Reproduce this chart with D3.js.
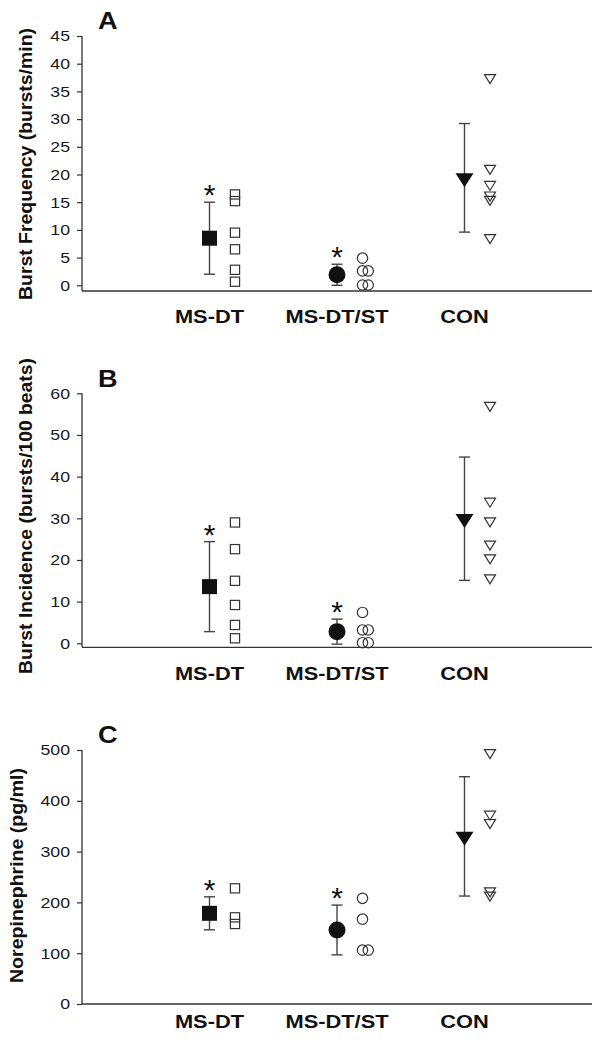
<!DOCTYPE html>
<html><head><meta charset="utf-8">
<script src="https://cdn.jsdelivr.net/npm/d3@7"></script>
<style>body{margin:0;background:#fff}svg{display:block}</style>
</head><body>
<script>
// ---- data ----
const categories = ["MS-DT", "MS-DT/ST", "CON"];

// Panel A: Burst Frequency (bursts/min)
const freqTicks = [0, 5, 10, 15, 20, 25, 30, 35, 40, 45];
const freqMean = [8.5, 1.9, 19.4];
const freqSD = [6.5, 1.9, 9.8];
const freqMSDT = [16.4, 15.2, 9.5, 6.5, 2.8, 0.65];
const freqMSDTST = [4.9, 2.6, 2.6, 0.05, 0.05];
const freqMSDTSTJitter = [0, 0, 1, 0, 1];
const freqCON = [37.5, 21.1, 18.2, 16.3, 15.5, 8.6];

// Panel B: Burst Incidence (bursts/100 beats)
const incTicks = [0, 10, 20, 30, 40, 50, 60];
const incMean = [13.6, 2.8, 29.9];
const incSD = [10.8, 3.0, 14.8];
const incMSDT = [29.0, 22.6, 15.0, 9.2, 4.4, 1.2];
const incMSDTST = [7.4, 3.2, 3.2, 0.15, 0.15];
const incMSDTSTJitter = [0, 0, 1, 0, 1];
const incCON = [57.1, 34.1, 29.4, 23.8, 20.5, 15.7];

// Panel C: Norepinephrine (pg/ml)
const neTicks = [0, 100, 200, 300, 400, 500];
const neMean = [178.5, 145.7, 330];
const neSD = [32.5, 49, 117.5];
const neMSDT = [227.7, 170.6, 157.5];
const neMSDTST = [208, 167, 106, 106];
const neMSDTSTJitter = [0, 0, 0, 1];
const neCON = [495, 373.6, 357.3, 222.8, 214.2];

const significant = [true, true, false];

// ---- layout ----
const W = 601, H = 1048;
const FONT = "'Liberation Sans', Arial, Helvetica, sans-serif";
const STRETCH = 1.18;
const svg = d3.select("body").append("svg").attr("width", W).attr("height", H);

const panels = [
  {letter: "A", title: "Burst Frequency (bursts/min)", ticks: freqTicks, mean: freqMean, sd: freqSD,
   ind: [freqMSDT, freqMSDTST, freqCON], jit: freqMSDTSTJitter,
   top: 36, zero: 285.3, axisY: 291, letterY: 29, labelY: 323, titleX: 32, titleY: 164, titleLen: 272},
  {letter: "B", title: "Burst Incidence (bursts/100 beats)", ticks: incTicks, mean: incMean, sd: incSD,
   ind: [incMSDT, incMSDTST, incCON], jit: incMSDTSTJitter,
   top: 393.3, zero: 643.3, axisY: 647.3, letterY: 387, labelY: 680, titleX: 32, titleY: 516, titleLen: 316},
  {letter: "C", title: "Norepinephrine (pg/ml)", ticks: neTicks, mean: neMean, sd: neSD,
   ind: [neMSDT, neMSDTST, neCON], jit: neMSDTSTJitter,
   top: 750, zero: 1004, axisY: 1004, letterY: 743, labelY: 1028, titleX: 23, titleY: 875.5, titleLen: 215}
];

const x = d3.scaleLinear().domain([0, categories.length + 1]).range([82, 592]);
const indOffset = 0.2, jitStep = 0.045;

function stretch(sel, k) {
  sel.each(function () {
    const l = this.getComputedTextLength();
    this.setAttribute("textLength", l * k);
    this.setAttribute("lengthAdjust", "spacingAndGlyphs");
  });
}
function triDown(w, h) {
  return `M${-w/2},${-h/3}L${w/2},${-h/3}L0,${2*h/3}Z`;
}

panels.forEach(p => {
  const y = d3.scaleLinear().domain([0, d3.max(p.ticks)]).range([p.zero, p.top]);
  const g = svg.append("g");

  // y axis
  const ax = g.append("g").attr("transform", `translate(${x(0)},0)`)
    .call(d3.axisLeft(y).tickValues(p.ticks).tickSize(5).tickPadding(7).tickSizeOuter(0));
  ax.select(".domain").remove();
  ax.selectAll(".tick line").attr("stroke", "#333").attr("stroke-width", 1.2);
  ax.selectAll(".tick text").attr("font-family", FONT).attr("font-size", 15).attr("fill", "#1a1a1a")
    .call(stretch, STRETCH);
  g.append("line").attr("x1", x(0)).attr("x2", x(0)).attr("y1", y(d3.max(p.ticks))).attr("y2", p.axisY)
    .attr("stroke", "#333").attr("stroke-width", 1.3);
  // x axis
  g.append("line").attr("x1", x(0)).attr("x2", x(categories.length + 1)).attr("y1", p.axisY).attr("y2", p.axisY)
    .attr("stroke", "#333").attr("stroke-width", 1.3);

  // category labels
  g.selectAll("text.cat").data(categories).join("text").attr("class", "cat")
    .attr("x", (d, i) => x(i + 1)).attr("y", p.labelY)
    .attr("text-anchor", "middle").attr("font-family", FONT).attr("font-weight", "bold")
    .attr("font-size", 18.5).attr("fill", "#111").text(d => d).call(stretch, STRETCH);

  // panel letter
  g.append("text").attr("x", 98).attr("y", p.letterY).attr("font-family", FONT).attr("font-weight", "bold")
    .attr("font-size", 23).attr("fill", "#111").text(p.letter).call(stretch, STRETCH);

  // y title
  g.append("text").attr("transform", `translate(${p.titleX},${p.titleY}) rotate(-90)`)
    .attr("text-anchor", "middle").attr("font-family", FONT).attr("font-weight", "bold")
    .attr("font-size", 17.5).attr("fill", "#111").text(p.title)
    .attr("textLength", p.titleLen).attr("lengthAdjust", "spacingAndGlyphs");

  // error bars
  const eb = g.selectAll("g.eb").data(p.mean.map((m, i) => ({m, sd: p.sd[i], i}))).join("g");
  eb.append("line").attr("x1", d => x(d.i + 1)).attr("x2", d => x(d.i + 1))
    .attr("y1", d => y(d.m - d.sd)).attr("y2", d => y(d.m + d.sd)).attr("stroke", "#444").attr("stroke-width", 1.4);
  [-1, 1].forEach(s => {
    eb.append("line").attr("x1", d => x(d.i + 1) - 5.5).attr("x2", d => x(d.i + 1) + 5.5)
      .attr("y1", d => y(d.m + s * d.sd)).attr("y2", d => y(d.m + s * d.sd)).attr("stroke", "#444").attr("stroke-width", 1.4);
  });
  // asterisks
  eb.filter(d => significant[d.i]).append("text")
    .attr("x", d => x(d.i + 1)).attr("y", d => y(d.m + d.sd) - 14 + 0.575 * 30)
    .attr("text-anchor", "middle").attr("font-family", FONT).attr("font-size", 30).attr("fill", "#111").text("*");

  // mean markers
  const mx0 = x(1), my0 = y(p.mean[0]);
  g.append("rect").attr("x", mx0 - 7.5).attr("y", my0 - 7.5).attr("width", 15).attr("height", 15).attr("fill", "#111");
  g.append("circle").attr("cx", x(2)).attr("cy", y(p.mean[1])).attr("r", 8.5).attr("fill", "#111");
  g.append("path").attr("transform", `translate(${x(3)},${y(p.mean[2])})`).attr("d", triDown(18, 14)).attr("fill", "#111");

  // individual points
  g.selectAll("rect.ind").data(p.ind[0]).join("rect").attr("class", "ind")
    .attr("x", x(1 + indOffset) - 4.6).attr("y", d => y(d) - 4.6).attr("width", 9.2).attr("height", 9.2)
    .attr("fill", "none").attr("stroke", "#333").attr("stroke-width", 1.2);
  g.selectAll("circle.ind").data(p.ind[1]).join("circle").attr("class", "ind")
    .attr("cx", (d, i) => x(2 + indOffset + p.jit[i] * jitStep)).attr("cy", d => y(d)).attr("r", 5.2)
    .attr("fill", "none").attr("stroke", "#333").attr("stroke-width", 1.2);
  g.selectAll("path.ind").data(p.ind[2]).join("path").attr("class", "ind")
    .attr("transform", d => `translate(${x(3 + indOffset)},${y(d)})`).attr("d", triDown(11, 9))
    .attr("fill", "none").attr("stroke", "#333").attr("stroke-width", 1.2);
});
</script>
</body></html>
